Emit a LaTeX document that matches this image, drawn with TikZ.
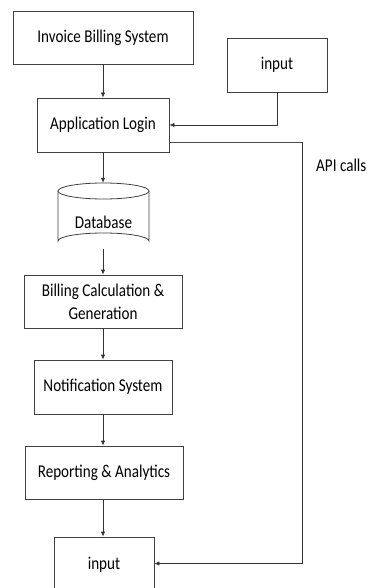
\documentclass[tikz,border=0pt]{standalone}
\usepackage{fontspec}
\setmainfont[FakeStretch=0.84]{Carlito}
\usetikzlibrary{arrows.meta}
\begin{document}
\begin{tikzpicture}[x=1pt,y=-1pt,
  font=\fontsize{18}{23}\selectfont,
  box/.style={draw=black!75,line width=0.8pt,inner sep=0pt,align=center},
  arr/.style={draw=black!80,line width=0.8pt,-{Latex[length=5pt,width=4.5pt]}},
  wire/.style={draw=black!70,line width=0.8pt}]
\useasboundingbox (0,0) rectangle (368,588);
\clip (0,0) rectangle (368,588);

% process boxes
\node[box,minimum width=180pt,minimum height=53pt] (inv)   at (103,37.5)  {Invoice Billing System};
\node[box,minimum width=100pt,minimum height=54pt] (in1)   at (277,65)    {input};
\node[box,minimum width=132pt,minimum height=54pt] (app)   at (103,125)   {Application Login};
\node[box,minimum width=158pt,minimum height=53pt] (bill)  at (103,301.5) {Billing Calculation \&\\Generation};
\node[box,minimum width=138pt,minimum height=54pt] (notif) at (103,387)   {Notification System};
\node[box,minimum width=158pt,minimum height=53pt] (rep)   at (104,472.5) {Reporting \& Analytics};
\node[box,minimum width=100pt,minimum height=56pt] (in2)   at (104,565)   {input};

% database cylinder
\node[minimum width=91pt,minimum height=66pt,inner sep=0pt] (db) at (103.5,216) {};
\draw[draw=black!75,line width=0.8pt]
  (58,191) -- (58,241) arc[start angle=180,end angle=360,x radius=45.5,y radius=8]
  -- (149,191);
\draw[draw=black!75,line width=0.8pt] (103.5,191) ellipse[x radius=45.5,y radius=8];
\node at (103.5,222) {Database};

% main flow
\draw[arr] (inv.south) -- (app.north);
\draw[arr] (app.south) -- ([xshift=-0.5pt]db.north);
\draw[arr] ([xshift=-0.5pt]db.south) -- (bill.north);
\draw[arr] (bill.south) -- (notif.north);
\draw[arr] (notif.south) -- ([xshift=-1pt]rep.north);
\draw[arr] ([xshift=-1pt]rep.south) -- ([xshift=-1pt]in2.north);

% side inputs and API calls
\draw[arr] (in1.south) |- (app.east);
\coordinate (apiturn) at (302,142);
\draw[wire] ([yshift=-17pt]app.east) -- (apiturn);
\draw[arr] (apiturn) |- ([yshift=1.5pt]in2.east);
\node[anchor=west,inner sep=0pt] (api) at (316,165) {API calls};
\end{tikzpicture}
\end{document}
